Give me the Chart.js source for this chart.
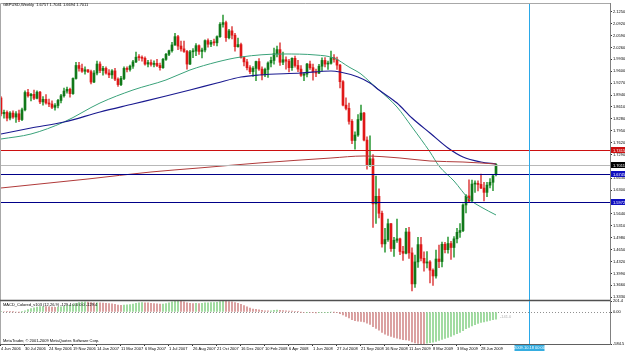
<!DOCTYPE html>
<html><head><meta charset="utf-8">
<script src="https://cdn.jsdelivr.net/npm/chart.js@4.4.1/dist/chart.umd.min.js"></script>
<style>
html,body{margin:0;padding:0;background:#fff;}
#wrap{position:relative;width:625px;height:351px;overflow:hidden;background:#fff;}
#p1{position:absolute;left:0;top:0;width:625px;height:301px;}
#p2{position:absolute;left:0;top:294px;width:625px;height:57px;}
</style></head><body>
<div id="wrap">
<div id="p1"><canvas id="c1"></canvas></div>
<div id="p2"><canvas id="c2"></canvas></div>
</div>
<script>
// ---------- data (weekly GBPUSD, bar 0 = 4 Jun 2006) ----------
const opens = [
1.8860,1.8420,1.8460,1.8300,1.8440,1.8330,1.8420,1.8260,1.8530,1.9010,
1.8920,1.8960,1.8850,1.9020,1.8750,1.8820,1.8720,1.8690,1.8600,1.8650,
1.8790,1.8920,1.9050,1.9100,1.8980,1.9400,1.9760,1.9680,1.9600,1.9640,
1.9590,1.9300,1.9550,1.9800,1.9620,1.9680,1.9550,1.9500,1.9610,1.9380,
1.9230,1.9400,1.9680,1.9650,1.9740,1.9860,1.9990,1.9980,1.9960,1.9800,
1.9840,1.9790,1.9820,1.9760,1.9700,1.9930,2.0070,2.0170,2.0330,2.0560,
2.0300,2.0220,2.0150,1.9800,2.0140,2.0160,2.0310,2.0150,2.0190,2.0450,
2.0350,2.0400,2.0390,2.0560,2.0900,2.0950,2.0530,2.0720,2.0600,2.0280,
2.0340,1.9980,1.9860,1.9700,1.9590,1.9680,1.9870,1.9660,1.9500,1.9650,
1.9830,1.9900,2.0090,2.0200,1.9850,1.9920,1.9880,1.9700,1.9960,1.9760,
1.9660,1.9490,1.9520,1.9800,1.9700,1.9580,1.9550,1.9740,1.9900,1.9800,
1.9820,1.9980,1.9930,1.9770,1.9310,1.8660,1.8570,1.8210,1.7680,1.7830,
1.8260,1.8440,1.7690,1.7000,1.7170,1.5920,1.6130,1.5660,1.4810,1.4930,
1.5370,1.4680,1.4910,1.4950,1.4600,1.4550,1.5140,1.4560,1.3700,1.4310,
1.4790,1.4410,1.4280,1.4310,1.4080,1.3920,1.4390,1.4320,1.4800,1.4650,
1.4820,1.4710,1.4950,1.5130,1.5180,1.5890,1.6140,1.6000,1.6470,1.6480,
1.6460,1.6360,1.6240,1.6440,1.6520,1.6757];
const highs = [
1.8900,1.8520,1.8500,1.8480,1.8500,1.8480,1.8520,1.8580,1.9060,1.9100,
1.8990,1.9080,1.9060,1.9040,1.8900,1.8950,1.8830,1.8780,1.8700,1.8820,
1.8960,1.9130,1.9160,1.9130,1.9420,1.9850,1.9850,1.9800,1.9720,1.9650,
1.9630,1.9620,1.9880,1.9860,1.9740,1.9720,1.9650,1.9650,1.9680,1.9420,
1.9460,1.9720,1.9720,1.9770,1.9900,2.0130,2.0060,2.0030,2.0000,1.9900,
1.9920,1.9890,1.9930,1.9830,1.9960,2.0100,2.0190,2.0400,2.0655,2.0600,
2.0440,2.0440,2.0180,2.0180,2.0230,2.0370,2.0330,2.0240,2.0470,2.0500,
2.0460,2.0490,2.0580,2.0950,2.1161,2.0990,2.0760,2.0840,2.0650,2.0520,
2.0380,2.0000,1.9930,1.9760,1.9730,1.9880,1.9950,1.9720,1.9690,1.9860,
1.9990,2.0240,2.0300,2.0390,2.0130,2.0000,1.9930,1.9970,2.0020,1.9900,
1.9760,1.9560,1.9820,1.9880,1.9800,1.9660,1.9790,1.9970,1.9980,1.9880,
2.0160,2.0060,1.9990,1.9790,1.9340,1.8860,1.8720,1.8260,1.7920,1.8400,
1.8660,1.8460,1.7780,1.7810,1.7290,1.6690,1.6340,1.5720,1.5240,1.5500,
1.5380,1.4990,1.5500,1.4970,1.4740,1.5240,1.5270,1.4700,1.4500,1.4990,
1.4990,1.4590,1.4600,1.4350,1.4120,1.4640,1.4780,1.4860,1.4850,1.5000,
1.4880,1.5010,1.5240,1.5370,1.5920,1.6180,1.6590,1.6580,1.6560,1.6560,
1.6745,1.6520,1.6520,1.6620,1.6720,1.7041];
const lows = [
1.8360,1.8300,1.8220,1.8250,1.8290,1.8180,1.8200,1.8230,1.8500,1.8880,
1.8780,1.8810,1.8830,1.8700,1.8660,1.8690,1.8620,1.8560,1.8520,1.8580,
1.8720,1.8880,1.8990,1.8880,1.8960,1.9380,1.9600,1.9570,1.9520,1.9560,
1.9250,1.9280,1.9500,1.9560,1.9490,1.9520,1.9420,1.9400,1.9340,1.9180,
1.9200,1.9370,1.9580,1.9600,1.9680,1.9840,1.9900,1.9880,1.9770,1.9720,
1.9740,1.9720,1.9730,1.9630,1.9680,1.9900,2.0030,2.0130,2.0320,2.0200,
2.0160,2.0120,1.9660,1.9780,1.9980,2.0030,2.0070,1.9970,2.0140,2.0270,
2.0280,2.0320,2.0300,2.0540,2.0820,2.0430,2.0500,2.0500,2.0160,2.0270,
1.9960,1.9750,1.9640,1.9530,1.9460,1.9340,1.9620,1.9360,1.9450,1.9430,
1.9720,1.9800,2.0000,1.9760,1.9780,1.9660,1.9580,1.9620,1.9710,1.9590,
1.9460,1.9340,1.9440,1.9650,1.9350,1.9450,1.9530,1.9600,1.9720,1.9650,
1.9800,1.9850,1.9650,1.9140,1.8640,1.8530,1.8130,1.7590,1.7440,1.7790,
1.8230,1.7670,1.6880,1.6950,1.5270,1.5380,1.5530,1.4720,1.4580,1.4880,
1.4600,1.4460,1.4850,1.4510,1.4350,1.4530,1.4410,1.3503,1.3600,1.4160,
1.4340,1.4050,1.4140,1.3730,1.3657,1.3860,1.4150,1.4170,1.4560,1.4550,
1.4380,1.4440,1.4840,1.4990,1.5150,1.5670,1.5960,1.5990,1.6240,1.6280,
1.6340,1.6000,1.6120,1.6360,1.6290,1.6694];
const closes = [
1.8420,1.8460,1.8300,1.8440,1.8330,1.8420,1.8260,1.8530,1.9010,1.8920,
1.8960,1.8850,1.9020,1.8750,1.8820,1.8720,1.8690,1.8600,1.8650,1.8790,
1.8920,1.9050,1.9100,1.8980,1.9400,1.9760,1.9680,1.9600,1.9640,1.9590,
1.9300,1.9550,1.9800,1.9620,1.9680,1.9550,1.9500,1.9610,1.9380,1.9230,
1.9400,1.9680,1.9650,1.9740,1.9860,1.9990,1.9980,1.9960,1.9800,1.9840,
1.9790,1.9820,1.9760,1.9700,1.9930,2.0070,2.0170,2.0330,2.0560,2.0300,
2.0220,2.0150,1.9800,2.0140,2.0160,2.0310,2.0150,2.0190,2.0450,2.0350,
2.0400,2.0390,2.0560,2.0900,2.0950,2.0530,2.0720,2.0600,2.0280,2.0340,
1.9980,1.9860,1.9700,1.9590,1.9680,1.9870,1.9660,1.9500,1.9650,1.9830,
1.9900,2.0090,2.0200,1.9850,1.9920,1.9880,1.9700,1.9960,1.9760,1.9660,
1.9490,1.9520,1.9800,1.9700,1.9580,1.9550,1.9740,1.9900,1.9800,1.9820,
1.9980,1.9930,1.9770,1.9310,1.8660,1.8570,1.8210,1.7680,1.7830,1.8260,
1.8440,1.7690,1.7000,1.7170,1.5920,1.6130,1.5660,1.4810,1.4930,1.5370,
1.4680,1.4910,1.4950,1.4600,1.4550,1.5140,1.4560,1.3700,1.4310,1.4790,
1.4410,1.4280,1.4310,1.4080,1.3920,1.4390,1.4320,1.4800,1.4650,1.4820,
1.4710,1.4950,1.5130,1.5180,1.5890,1.6140,1.6000,1.6470,1.6480,1.6460,
1.6360,1.6240,1.6440,1.6520,1.6700,1.7011];

// moving averages (bar index, price)
const maFastIdx = [0,10,21,33,44,55,63,72,80,94,105,111,116,120,123,126,132,137,143,146,151,156,160,165];
const maFast    = [1.7720,1.7859,1.8192,1.8719,1.9080,1.9358,1.9635,1.9857,1.9996,2.0079,2.0051,1.9968,1.9718,1.9524,1.9302,1.9080,1.8608,1.8053,1.7360,1.6971,1.6555,1.6056,1.5834,1.5612];
const maMidIdx  = [0,10,21,33,44,55,63,72,80,86,100,110,113,119,123,126,132,137,143,149,154,160,165];
const maMid     = [1.7859,1.8026,1.8192,1.8470,1.8692,1.8914,1.9080,1.9274,1.9441,1.9496,1.9552,1.9607,1.9579,1.9441,1.9274,1.9080,1.8719,1.8303,1.7887,1.7471,1.7221,1.7082,1.7027];
const maSlowIdx = [0,29,50,66,86,110,121,133,143,154,165];
const maSlow    = [1.6361,1.6611,1.6805,1.6916,1.7055,1.7193,1.7249,1.7193,1.7110,1.7082,1.7027];

// MACD histogram
const macd = [
12,10,6,4,2,0,-3,2,20,45,
62,78,92,98,100,98,94,88,85,88,
95,106,118,122,135,158,172,180,184,182,
172,166,168,166,164,160,152,148,140,126,
120,125,130,136,146,160,168,172,170,166,
160,156,150,144,146,156,170,186,198,201.4,
196,186,168,160,156,158,156,158,166,170,
172,172,178,190,200,196,192,186,172,160,
140,118,96,72,55,48,40,30,24,22,
24,30,34,30,28,24,18,16,12,6,
-2,-8,-6,-8,-12,-16,-14,-8,-6,-4,
0,-2,-12,-28,-52,-80,-108,-140,-160,-168,
-170,-182,-205,-225,-268,-300,-330,-372,-405,-426,
-448,-466,-478,-490,-504,-508,-520,-548,-566,-576,
-582,-584.5,-570,-560,-552,-536,-520,-500,-482,-462,
-444,-420,-396,-372,-340,-306,-280,-252,-230,-210,
-192,-180,-166,-152,-140,-129.4];

// tick labels
const priceTicks = [2.1250,2.0920,2.0590,2.0260,1.9930,1.9600,1.9270,1.8940,1.8610,1.8280,1.7950,1.7620,1.7290,1.6960,1.6630,1.6300,1.5970,1.5640,1.5310,1.4980,1.4650,1.4320,1.3990,1.3660,1.3330];
const dateTicks = ['4 Jun 2006','30 Jul 2006','24 Sep 2006','19 Nov 2006','14 Jan 2007','11 Mar 2007','6 May 2007','1 Jul 2007','26 Aug 2007','21 Oct 2007','16 Dec 2007','10 Feb 2008','6 Apr 2008','1 Jun 2008','27 Jul 2008','21 Sep 2008','16 Nov 2008','11 Jan 2009','8 Mar 2009','3 May 2009','28 Jun 2009'];
const dateTickIdx = dateTicks.map((_, k) => k * 8);
const macdTicks = [201.4, 0, -584.5];
const macdTickText = ['201.4', '0.00', '-584.5'];

// horizontal levels / marker
const levelPrices = [1.7415, 1.7011, 1.6745, 1.5972];
const markIdx = 176;
const markText = '2009.10.18 00:00';
const titleText = 'GBPUSD,Weekly  1.6757 1.7041 1.6694 1.7011';
const macdTitle = 'MACD_Colored_v103 (12,26,9) -129.4 0.0 0.0 -129.4';
const copyText = 'MetaTrader, \u00A9 2001-2009 MetaQuotes Software Corp.';
const macdNote = '-141.0';

// ---------- styles ----------
const levelLine = ['#cc1010', '#b8b8b8', '#000088', '#000088'];
const levelBox  = ['#cc1010', '#000000', '#1010c0', '#1010c0'];
const CYAN = '#2aa8e8';
const FONT = 'Liberation Sans';
const txtFont = '4px "Liberation Sans", Arial, sans-serif';
const X_MIN = -0.333, X_MAX = 203.0;

const idx = opens.map((_, i) => i);
const bull = idx.map(i => closes[i] >= opens[i]);

const mainDecor = {
  id: 'mainDecor',
  afterDatasetsDraw(chart) {
    const {ctx, chartArea: a, scales: {x, y}} = chart;
    ctx.save();
    ctx.lineWidth = 1;
    levelPrices.forEach((p, k) => {
      const py = Math.round(y.getPixelForValue(p)) + 0.5;
      ctx.strokeStyle = levelLine[k];
      ctx.beginPath(); ctx.moveTo(a.left, py); ctx.lineTo(a.right, py); ctx.stroke();
    });
    const vx = Math.round(x.getPixelForValue(markIdx)) + 0.5;
    ctx.strokeStyle = CYAN;
    ctx.beginPath(); ctx.moveTo(vx, a.top); ctx.lineTo(vx, a.bottom); ctx.stroke();
    ctx.restore();
  },
  afterDraw(chart) {
    const {ctx, chartArea: a, scales: {y}} = chart;
    ctx.save();
    ctx.strokeStyle = '#a8a8a8'; ctx.lineWidth = 1;
    ctx.beginPath(); ctx.moveTo(0.5, a.bottom); ctx.lineTo(0.5, a.top + 0.5); ctx.lineTo(a.right, a.top + 0.5); ctx.stroke();
    ctx.font = txtFont; ctx.textBaseline = 'middle'; ctx.textAlign = 'left';
    levelPrices.forEach((p, k) => {
      const py = Math.round(y.getPixelForValue(p));
      ctx.fillStyle = levelBox[k];
      ctx.fillRect(a.right + 1, py - 3, chart.width - a.right - 1, 6);
      ctx.fillStyle = '#fff';
      ctx.fillText(p.toFixed(4), a.right + 3, py + 0.5);
    });
    ctx.fillStyle = '#000';
    ctx.fillText(titleText, 3, 5);
    ctx.restore();
  }
};

const macdDecor = {
  id: 'macdDecor',
  beforeDatasetsDraw(chart) {
    const {ctx, chartArea: a, scales: {y}} = chart;
    const zy = Math.round(y.getPixelForValue(0)) + 0.5;
    ctx.save();
    ctx.strokeStyle = '#909090'; ctx.lineWidth = 1; ctx.setLineDash([1, 2]);
    ctx.beginPath(); ctx.moveTo(a.left, zy); ctx.lineTo(a.right, zy); ctx.stroke();
    ctx.restore();
  },
  afterDraw(chart) {
    const {ctx, chartArea: a, scales: {x, y}} = chart;
    ctx.save();
    ctx.strokeStyle = '#a8a8a8'; ctx.lineWidth = 1;
    ctx.beginPath(); ctx.moveTo(0.5, a.top); ctx.lineTo(0.5, a.bottom); ctx.stroke();
    ctx.strokeStyle = '#505050'; ctx.lineWidth = 1.5;
    ctx.beginPath(); ctx.moveTo(0, a.top - 0.5); ctx.lineTo(a.right, a.top - 0.5); ctx.stroke();
    const vx = Math.round(x.getPixelForValue(markIdx)) + 0.5;
    ctx.strokeStyle = CYAN; ctx.lineWidth = 1;
    ctx.beginPath(); ctx.moveTo(vx, a.top); ctx.lineTo(vx, a.bottom); ctx.stroke();
    ctx.fillStyle = '#35ade0';
    ctx.fillRect(vx - 15, a.bottom + 1, 30, 6);
    ctx.font = txtFont; ctx.textBaseline = 'middle'; ctx.textAlign = 'center';
    ctx.fillStyle = '#ffffff';
    ctx.fillText(markText, vx, a.bottom + 4);
    ctx.textAlign = 'left'; ctx.fillStyle = '#000';
    ctx.fillText(macdTitle, 3, a.top + 4);
    ctx.fillText(copyText, 3, a.bottom - 3);
    ctx.fillStyle = '#b0b0b0';
    ctx.fillText(macdNote, 500, y.getPixelForValue(0) + 5);
    ctx.restore();
  }
};

function zeroPad(s) { s.paddingTop = 0; s.paddingBottom = 0; s.paddingLeft = 0; s.paddingRight = 0; }

new Chart(document.getElementById('c1'), {
  type: 'bar',
  data: { datasets: [
    { type: 'line', data: maSlowIdx.map((v, k) => ({x: v, y: maSlow[k]})), borderColor: '#b03a3a', borderWidth: 1, pointRadius: 0, cubicInterpolationMode: 'monotone', order: 0 },
    { type: 'line', data: maMidIdx.map((v, k) => ({x: v, y: maMid[k]})), borderColor: '#1a1a90', borderWidth: 1.2, pointRadius: 0, cubicInterpolationMode: 'monotone', order: 0 },
    { type: 'line', data: maFastIdx.map((v, k) => ({x: v, y: maFast[k]})), borderColor: '#3aa27a', borderWidth: 1, pointRadius: 0, cubicInterpolationMode: 'monotone', order: 0 },
    { type: 'bar', data: idx.map(i => ({x: i, y: [opens[i], closes[i]]})), backgroundColor: idx.map(i => bull[i] ? '#11781a' : '#e01818'), barThickness: 2, grouped: false, minBarLength: 1, borderWidth: 0, order: 2 },
    { type: 'bar', data: idx.map(i => ({x: i, y: [lows[i], highs[i]]})), backgroundColor: idx.map(i => bull[i] ? '#3aa044' : '#e05050'), barThickness: 1, grouped: false, borderWidth: 0, order: 3 }
  ]},
  options: {
    responsive: true, maintainAspectRatio: false, animation: false, devicePixelRatio: 1, events: [],
    layout: { padding: { top: 3, left: 0, right: 0, bottom: 1 } },
    plugins: { legend: { display: false }, tooltip: { enabled: false } },
    scales: {
      x: { type: 'linear', min: X_MIN, max: X_MAX, offset: false, display: false, grid: { offset: false } },
      y: {
        position: 'right', min: 1.3253, max: 2.1494, beginAtZero: false, bounds: 'data',
        afterBuildTicks(s) { s.ticks = priceTicks.map(v => ({value: v})); },
        afterFit(s) { s.width = 15; zeroPad(s); },
        ticks: { autoSkip: false, padding: 1, color: '#000', font: { family: FONT, size: 4, lineHeight: 1 }, callback: v => Number(v).toFixed(4) },
        grid: { drawOnChartArea: false, drawTicks: true, tickLength: 2, color: '#303030' },
        border: { display: true, color: '#808080' }
      }
    }
  },
  plugins: [mainDecor]
});

new Chart(document.getElementById('c2'), {
  type: 'bar',
  data: { datasets: [
    { data: idx.map(i => ({x: i, y: macd[i]})), backgroundColor: idx.map(i => (i === 0 || macd[i] >= macd[i - 1]) ? '#8fd48f' : '#d48f8f'), barThickness: 1, grouped: false, borderWidth: 0 }
  ]},
  options: {
    responsive: true, maintainAspectRatio: false, animation: false, devicePixelRatio: 1, events: [],
    layout: { padding: { top: 7, left: 0, right: 0, bottom: 0 } },
    plugins: { legend: { display: false }, tooltip: { enabled: false } },
    scales: {
      x: {
        type: 'linear', min: X_MIN, max: X_MAX, offset: false, bounds: 'data',
        afterBuildTicks(s) { s.ticks = dateTickIdx.map(v => ({value: v})); },
        afterFit(s) { s.height = 7; zeroPad(s); },
        ticks: { autoSkip: false, maxRotation: 0, minRotation: 0, align: 'start', padding: 1, color: '#000', font: { family: FONT, size: 4, lineHeight: 1 }, callback: (v, k) => dateTicks[k] },
        grid: { drawOnChartArea: false, drawTicks: true, tickLength: 2, color: '#303030', offset: false },
        border: { display: true, color: '#606060' }
      },
      y: {
        position: 'right', min: -584.5, max: 201.4, beginAtZero: false, bounds: 'data',
        afterBuildTicks(s) { s.ticks = macdTicks.map(v => ({value: v})); },
        afterFit(s) { s.width = 15; zeroPad(s); },
        ticks: { autoSkip: false, padding: 1, color: '#000', font: { family: FONT, size: 4, lineHeight: 1 }, callback: (v, k) => macdTickText[k] },
        grid: { drawOnChartArea: false, drawTicks: true, tickLength: 2, color: '#303030' },
        border: { display: true, color: '#808080' }
      }
    }
  },
  plugins: [macdDecor]
});
</script>
</body></html>
